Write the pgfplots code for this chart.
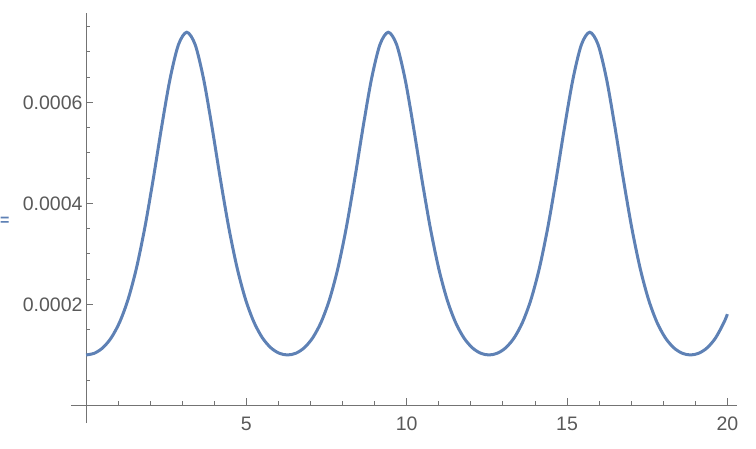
\documentclass[border=0pt]{standalone}
\usepackage{fontspec}
\setmainfont{Liberation Sans}
\usepackage{pgfplots}
\pgfplotsset{compat=1.18}
\definecolor{mmablue}{rgb}{0.368417,0.506779,0.709798}
\definecolor{axgray}{gray}{0.45}
\definecolor{labgray}{gray}{0.35}
\begin{document}
\begin{tikzpicture}
\useasboundingbox (-71pt,-25pt) rectangle (685pt,423pt);
\begin{axis}[
    scale only axis,
    width=666pt, height=410pt,
    xmin=-0.47, xmax=20.3,
    ymin=-0.0000347, ymax=0.000777,
    axis lines=middle,
    axis line style={-, draw=axgray, line width=0.9pt},
    tick style={draw=axgray, line width=0.9pt},
    tick align=inside,
    major tick length=7pt,
    minor tick length=4pt,
    xtick={5,10,15,20},
    minor xtick={1,2,3,4,6,7,8,9,11,12,13,14,16,17,18,19},
    ytick={0.0002,0.0004,0.0006},
    yticklabels={0.0002,0.0004,0.0006},
    scaled y ticks=false,
    minor ytick={0.00005,0.0001,0.00015,0.00025,0.0003,0.00035,0.00045,0.0005,0.00055,0.00065,0.0007,0.00075},
    ticklabel style={font=\fontsize{19.5}{22}\selectfont, text=labgray},
    xticklabel style={anchor=center, yshift=-18pt},
    /pgf/number format/assume math mode=true,
    clip=false,
]
\addplot[mmablue, line width=3pt, smooth] coordinates {
(0,1.0000e-4) (0.2618,1.0347e-4) (0.5236,1.1434e-4) (0.7854,1.3403e-4)
(1.0472,1.6487e-4) (1.3090,2.0984e-4) (1.5708,2.7183e-4) (1.8326,3.5213e-4)
(2.0944,4.4817e-4) (2.3562,5.5130e-4) (2.6180,6.4626e-4) (2.8798,7.1415e-4)
(3.1416,7.3891e-4) (3.4034,7.1415e-4) (3.6652,6.4626e-4) (3.9270,5.5130e-4)
(4.1888,4.4817e-4) (4.4506,3.5213e-4) (4.7124,2.7183e-4) (4.9742,2.0984e-4)
(5.2360,1.6487e-4) (5.4978,1.3403e-4) (5.7596,1.1434e-4) (6.0214,1.0347e-4)
(6.2832,1.0000e-4) (6.5450,1.0347e-4) (6.8068,1.1434e-4) (7.0686,1.3403e-4)
(7.3304,1.6487e-4) (7.5922,2.0984e-4) (7.8540,2.7183e-4) (8.1158,3.5213e-4)
(8.3776,4.4817e-4) (8.6394,5.5130e-4) (8.9012,6.4626e-4) (9.1630,7.1415e-4)
(9.4248,7.3891e-4) (9.6866,7.1415e-4) (9.9484,6.4626e-4) (10.2102,5.5130e-4)
(10.4720,4.4817e-4) (10.7338,3.5213e-4) (10.9956,2.7183e-4) (11.2574,2.0984e-4)
(11.5192,1.6487e-4) (11.7810,1.3403e-4) (12.0428,1.1434e-4) (12.3046,1.0347e-4)
(12.5664,1.0000e-4) (12.8282,1.0347e-4) (13.0900,1.1434e-4) (13.3518,1.3403e-4)
(13.6136,1.6487e-4) (13.8754,2.0984e-4) (14.1372,2.7183e-4) (14.3990,3.5213e-4)
(14.6608,4.4817e-4) (14.9226,5.5130e-4) (15.1844,6.4626e-4) (15.4462,7.1415e-4)
(15.7080,7.3891e-4) (15.9698,7.1415e-4) (16.2316,6.4626e-4) (16.4934,5.5130e-4)
(16.7552,4.4817e-4) (17.0170,3.5213e-4) (17.2788,2.7183e-4) (17.5406,2.0984e-4)
(17.8024,1.6487e-4) (18.0642,1.3403e-4) (18.3260,1.1434e-4) (18.5878,1.0347e-4)
(18.8496,1.0000e-4) (19.1114,1.0347e-4) (19.3732,1.1434e-4) (19.6350,1.3403e-4)
(19.8968,1.6487e-4) (20,1.8075e-4)
};
\end{axis}
\node[anchor=west, text=mmablue, font=\fontsize{16}{18}\selectfont\bfseries, inner sep=0pt] at (-71pt,202pt) {=};
\end{tikzpicture}
\end{document}
